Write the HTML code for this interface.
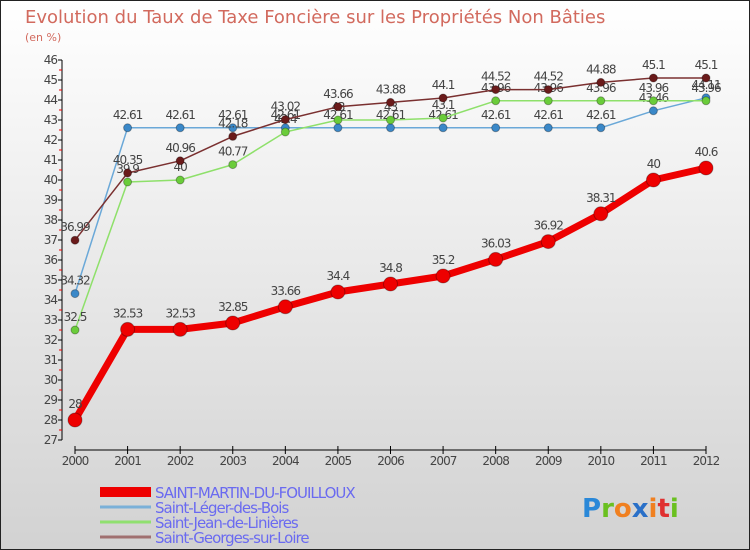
<!DOCTYPE html>
<html><head><meta charset="utf-8"><style>
html,body{margin:0;padding:0}
body{width:750px;height:550px;overflow:hidden;font-family:"DejaVu Sans","Liberation Sans",sans-serif}
#wrap{position:absolute;left:0;top:0;width:748px;height:548px;border:1px solid #222;background:linear-gradient(#ffffff,#d2d2d2)}
</style></head><body>
<div id="wrap">
<svg id="chart" width="750" height="550" style="position:absolute;left:-1px;top:-1px"></svg>
</div>
<script>
const years=[2000,2001,2002,2003,2004,2005,2006,2007,2008,2009,2010,2011,2012];
const martin=[28,32.53,32.53,32.85,33.66,34.4,34.8,35.2,36.03,36.92,38.31,40,40.6];
const leger=[34.32,42.61,42.61,42.61,42.61,42.61,42.61,42.61,42.61,42.61,42.61,43.46,44.11];
const jean=[32.5,39.9,40,40.77,42.4,43,43,43.1,43.96,43.96,43.96,43.96,43.96];
const georges=[36.99,40.35,40.96,42.18,43.02,43.66,43.88,44.1,44.52,44.52,44.88,45.1,45.1];
const yTicks=[27,28,29,30,31,32,33,34,35,36,37,38,39,40,41,42,43,44,45,46];
const seriesNames=["SAINT-MARTIN-DU-FOUILLOUX","Saint-Léger-des-Bois","Saint-Jean-de-Linières","Saint-Georges-sur-Loire"];
const NS="http://www.w3.org/2000/svg";
const svg=document.getElementById('chart');
const X=i=>75+i*(706-75)/(years.length-1);
const Y=v=>60+(46-v)*20;
function mk(t,a,p){const e=document.createElementNS(NS,t);for(const k in a)e.setAttribute(k,a[k]);(p||svg).appendChild(e);return e;}
function fmt(v){return String(v);}
// title
let t=mk('text',{x:25,y:23,'font-size':18,fill:'#d26a5e'});t.textContent="Evolution du Taux de Taxe Foncière sur les Propriétés Non Bâties";

t=mk('text',{x:25,y:41,'font-size':11,fill:'#d26a5e'});t.textContent="(en %)";

// axes
let ax=mk('line',{x1:62,y1:Y(46),x2:62,y2:Y(27),stroke:'#000','stroke-width':1});

yTicks.forEach(v=>{
 mk('line',{x1:58,x2:62,y1:Y(v),y2:Y(v),stroke:'#000'});
 if(v<46) mk('line',{x1:59,x2:62,y1:Y(v+0.5),y2:Y(v+0.5),stroke:'#e00'});
 const l=mk('text',{x:57,y:Y(v)+4,'font-size':12,'text-anchor':'end',fill:'#444','letter-spacing':'-1'});l.textContent=v;
 
});
ax=mk('line',{x1:75,y1:450,x2:706,y2:450,stroke:'#000'});

years.forEach((yr,i)=>{
 mk('line',{x1:X(i),x2:X(i),y1:446,y2:454,stroke:'#000'});
 const l=mk('text',{x:X(i),y:465,'font-size':12,'text-anchor':'middle',fill:'#444','letter-spacing':'-1'});l.textContent=yr;
 
});
function series(data,color,w,r,name,dotStroke){
 const g=mk('g',{});
 
 mk('polyline',{points:data.map((v,i)=>X(i)+','+Y(v)).join(' '),fill:'none',stroke:color,'stroke-width':w,'stroke-linejoin':'round'},g);
 data.forEach((v,i)=>{
  const c=mk('circle',{cx:X(i),cy:Y(v),r:r,fill:dotStroke,stroke:'rgba(0,0,0,0.3)','stroke-width':1},g);
  
  const l=mk('text',{x:X(i),y:Y(v)-r-5,'font-size':12,'text-anchor':'middle',fill:'#444','letter-spacing':'-1'},g);
  l.textContent=fmt(v);
  
 });
}
series(leger,'#6aa8d8',1.5,4,'series-saint-leger','#3a88c8');
series(jean,'#8ee06a',1.5,4,'series-saint-jean','#6acc3a');
series(georges,'#7a3030',1.5,4,'series-saint-georges','#6a1a1a');
series(martin,'#ee0000',7,7,'series-saint-martin','#ee0000');
// legend
const lc=['#ee0000','#7ab0d8','#90e070','#a07070'];const lw=[10,3,3,3];const ly=[492,507,522,537];
seriesNames.forEach((n,i)=>{
 const g=mk('g',{});
 
 mk('rect',{x:100,y:ly[i]-lw[i]/2,width:51,height:lw[i],fill:lc[i]},g);
 const l=mk('text',{x:155,y:ly[i]+6,'font-size':15,fill:'#6a6af0','letter-spacing':'-1'},g);l.textContent=n;
});
// logo
const lg=mk('text',{x:582,y:517,'font-size':26,'font-weight':'bold'});

[['P','#2a88d8'],['r','#6ac020'],['o','#f08020'],['x','#2a70c8'],['i','#f08020'],['t','#e03030'],['i','#6ac020']].forEach(([c,col])=>{mk('tspan',{fill:col},lg).textContent=c;});
</script>
</body></html>
